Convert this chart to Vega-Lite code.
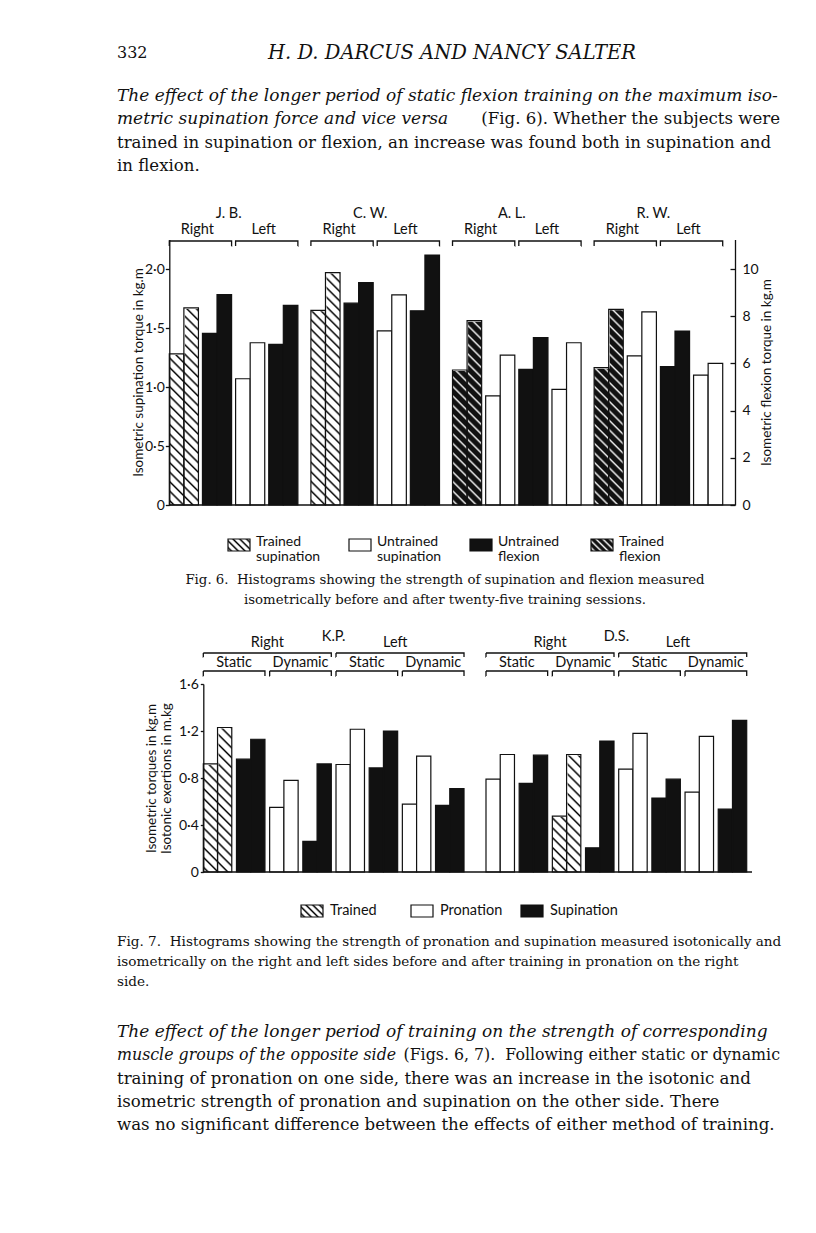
{
"$schema": "https://vega.github.io/schema/vega-lite/v6.json",
"width": 816, "height": 1233,
"autosize": {"type": "fit", "contains": "padding"},
"padding": 0,
"background": "white",
"config": {
  "view": {"stroke": null},
  "font": "Lato",
  "axis": {"labelFont": "Lato", "labelFontSize": 14, "labelColor": "#111", "titleFont": "Lato", "titleFontSize": 13.5, "titleFontWeight": "normal", "titleColor": "#111", "domainColor": "#111", "tickColor": "#111", "domainWidth": 1.3, "tickWidth": 1.3, "grid": false, "zindex": 1}
},
"datasets": {
  "fig6": [
    {"subject":"J.B.","side":"Right","pair":"p1","measure":"supination","kind":"Trained supination","before":1.28,"after":1.67},
    {"subject":"J.B.","side":"Right","pair":"p2","measure":"flexion","kind":"Untrained flexion","before":7.27,"after":8.91},
    {"subject":"J.B.","side":"Left","pair":"p3","measure":"supination","kind":"Untrained supination","before":1.07,"after":1.375},
    {"subject":"J.B.","side":"Left","pair":"p4","measure":"flexion","kind":"Untrained flexion","before":6.81,"after":8.46},
    {"subject":"C.W.","side":"Right","pair":"p1","measure":"supination","kind":"Trained supination","before":1.65,"after":1.97},
    {"subject":"C.W.","side":"Right","pair":"p2","measure":"flexion","kind":"Untrained flexion","before":8.55,"after":9.42},
    {"subject":"C.W.","side":"Left","pair":"p3","measure":"supination","kind":"Untrained supination","before":1.475,"after":1.78},
    {"subject":"C.W.","side":"Left","pair":"p4","measure":"flexion","kind":"Untrained flexion","before":8.23,"after":10.59},
    {"subject":"A.L.","side":"Right","pair":"p1","measure":"flexion","kind":"Trained flexion","before":5.72,"after":7.81},
    {"subject":"A.L.","side":"Right","pair":"p2","measure":"supination","kind":"Untrained supination","before":0.924,"after":1.27},
    {"subject":"A.L.","side":"Left","pair":"p3","measure":"flexion","kind":"Untrained flexion","before":5.75,"after":7.09},
    {"subject":"A.L.","side":"Left","pair":"p4","measure":"supination","kind":"Untrained supination","before":0.98,"after":1.375},
    {"subject":"R.W.","side":"Right","pair":"p1","measure":"flexion","kind":"Trained flexion","before":5.82,"after":8.29},
    {"subject":"R.W.","side":"Right","pair":"p2","measure":"supination","kind":"Untrained supination","before":1.263,"after":1.636},
    {"subject":"R.W.","side":"Left","pair":"p3","measure":"flexion","kind":"Untrained flexion","before":5.86,"after":7.37},
    {"subject":"R.W.","side":"Left","pair":"p4","measure":"supination","kind":"Untrained supination","before":1.10,"after":1.20}
  ],
  "fig6hdr": [
    {"subject":"J.B.","label":"J. B.","side":"Right"},{"subject":"J.B.","label":"J. B.","side":"Left"},
    {"subject":"C.W.","label":"C. W.","side":"Right"},{"subject":"C.W.","label":"C. W.","side":"Left"},
    {"subject":"A.L.","label":"A. L.","side":"Right"},{"subject":"A.L.","label":"A. L.","side":"Left"},
    {"subject":"R.W.","label":"R. W.","side":"Right"},{"subject":"R.W.","label":"R. W.","side":"Left"}
  ],
  "legend6": [{"entry":"Trained supination"},{"entry":"Untrained supination"},{"entry":"Untrained flexion"},{"entry":"Trained flexion"}],
  "fig7": [
    {"subject":"K.P.","side":"Right","mode":"Static","pair":"p1","measure":"pronation","kind":"Trained","before":0.92,"after":1.23},
    {"subject":"K.P.","side":"Right","mode":"Static","pair":"p2","measure":"supination","kind":"Supination","before":0.96,"after":1.13},
    {"subject":"K.P.","side":"Right","mode":"Dynamic","pair":"p3","measure":"pronation","kind":"Pronation","before":0.55,"after":0.78},
    {"subject":"K.P.","side":"Right","mode":"Dynamic","pair":"p4","measure":"supination","kind":"Supination","before":0.26,"after":0.92},
    {"subject":"K.P.","side":"Left","mode":"Static","pair":"p5","measure":"pronation","kind":"Pronation","before":0.915,"after":1.215},
    {"subject":"K.P.","side":"Left","mode":"Static","pair":"p6","measure":"supination","kind":"Supination","before":0.886,"after":1.20},
    {"subject":"K.P.","side":"Left","mode":"Dynamic","pair":"p7","measure":"pronation","kind":"Pronation","before":0.577,"after":0.986},
    {"subject":"K.P.","side":"Left","mode":"Dynamic","pair":"p8","measure":"supination","kind":"Supination","before":0.567,"after":0.71},
    {"subject":"D.S.","side":"Right","mode":"Static","pair":"p1","measure":"pronation","kind":"Pronation","before":0.79,"after":1.0},
    {"subject":"D.S.","side":"Right","mode":"Static","pair":"p2","measure":"supination","kind":"Supination","before":0.754,"after":0.994},
    {"subject":"D.S.","side":"Right","mode":"Dynamic","pair":"p3","measure":"pronation","kind":"Trained","before":0.476,"after":1.0},
    {"subject":"D.S.","side":"Right","mode":"Dynamic","pair":"p4","measure":"supination","kind":"Supination","before":0.206,"after":1.115},
    {"subject":"D.S.","side":"Left","mode":"Static","pair":"p5","measure":"pronation","kind":"Pronation","before":0.875,"after":1.18},
    {"subject":"D.S.","side":"Left","mode":"Static","pair":"p6","measure":"supination","kind":"Supination","before":0.63,"after":0.79},
    {"subject":"D.S.","side":"Left","mode":"Dynamic","pair":"p7","measure":"pronation","kind":"Pronation","before":0.68,"after":1.155},
    {"subject":"D.S.","side":"Left","mode":"Dynamic","pair":"p8","measure":"supination","kind":"Supination","before":0.535,"after":1.29}
  ],
  "fig7hdr": [
    {"subject":"K.P.","side":"Right","mode":"Static","group":"Right Static"},
    {"subject":"K.P.","side":"Right","mode":"Dynamic","group":"Right Dynamic"},
    {"subject":"K.P.","side":"Left","mode":"Static","group":"Left Static"},
    {"subject":"K.P.","side":"Left","mode":"Dynamic","group":"Left Dynamic"},
    {"subject":"D.S.","side":"Right","mode":"Static","group":"Right Static"},
    {"subject":"D.S.","side":"Right","mode":"Dynamic","group":"Right Dynamic"},
    {"subject":"D.S.","side":"Left","mode":"Static","group":"Left Static"},
    {"subject":"D.S.","side":"Left","mode":"Dynamic","group":"Left Dynamic"}
  ],
  "legend7": [{"entry":"Trained"},{"entry":"Pronation"},{"entry":"Supination"}],
  "text": [
    {"block":"header-page","line":1,"text":"332"},
    {"block":"header-title","line":1,"text":"H. D. DARCUS AND NANCY SALTER"},
    {"block":"p1-lead","line":1,"text":"\u00a0\u00a0\u00a0\u00a0\u00a0The effect of the longer period of static flexion training on the maximum iso-"},
    {"block":"p1-lead","line":2,"text":"metric supination force and vice versa"},
    {"block":"p1-tail","line":2,"text":"(Fig. 6). Whether the subjects were"},
    {"block":"p1-body","line":3,"text":"trained in supination or flexion, an increase was found both in supination and"},
    {"block":"p1-body","line":4,"text":"in flexion."},
    {"block":"cap6","line":1,"text":"Fig. 6.\u00a0 Histograms showing the strength of supination and flexion measured"},
    {"block":"cap6","line":2,"text":"isometrically before and after twenty-five training sessions."},
    {"block":"cap7","line":1,"text":"Fig. 7.\u00a0 Histograms showing the strength of pronation and supination measured isotonically and"},
    {"block":"cap7","line":2,"text":"\u00a0\u00a0\u00a0\u00a0\u00a0isometrically on the right and left sides before and after training in pronation on the right"},
    {"block":"cap7","line":3,"text":"\u00a0\u00a0\u00a0\u00a0\u00a0side."},
    {"block":"p2-lead","line":1,"text":"\u00a0\u00a0\u00a0\u00a0\u00a0The effect of the longer period of training on the strength of corresponding"},
    {"block":"p2-lead","line":2,"text":"muscle groups of the opposite side"},
    {"block":"p2-tail","line":2,"text":"(Figs. 6, 7).\u00a0 Following either static or dynamic"},
    {"block":"p2-body","line":3,"text":"training of pronation on one side, there was an increase in the isotonic and"},
    {"block":"p2-body","line":4,"text":"isometric strength of pronation and supination on the other side. There"},
    {"block":"p2-body","line":5,"text":"was no significant difference between the effects of either method of training."}
  ]
},
"layer": [
  {"data":{"name":"fig6"},"transform":[{"filter":"datum.kind === 'Trained supination'"}],
   "mark":{"type":"bar","strokeWidth":0,"fill":{"gradient":"linear","x1":0,"y1":1,"x2":0.1204,"y2":-0.0965,"stops":[
{"offset":0.009,"color":"#fff"},{"offset":0.0161,"color":"#000"},{"offset":0.0232,"color":"#fff"},
{"offset":0.0413,"color":"#fff"},{"offset":0.0484,"color":"#000"},{"offset":0.0555,"color":"#fff"},
{"offset":0.0735,"color":"#fff"},{"offset":0.0806,"color":"#000"},{"offset":0.0877,"color":"#fff"},
{"offset":0.1058,"color":"#fff"},{"offset":0.1129,"color":"#000"},{"offset":0.12,"color":"#fff"},
{"offset":0.1381,"color":"#fff"},{"offset":0.1452,"color":"#000"},{"offset":0.1523,"color":"#fff"},
{"offset":0.1703,"color":"#fff"},{"offset":0.1774,"color":"#000"},{"offset":0.1845,"color":"#fff"},
{"offset":0.2026,"color":"#fff"},{"offset":0.2097,"color":"#000"},{"offset":0.2168,"color":"#fff"},
{"offset":0.2348,"color":"#fff"},{"offset":0.2419,"color":"#000"},{"offset":0.249,"color":"#fff"},
{"offset":0.2671,"color":"#fff"},{"offset":0.2742,"color":"#000"},{"offset":0.2813,"color":"#fff"},
{"offset":0.2994,"color":"#fff"},{"offset":0.3065,"color":"#000"},{"offset":0.3136,"color":"#fff"},
{"offset":0.3316,"color":"#fff"},{"offset":0.3387,"color":"#000"},{"offset":0.3458,"color":"#fff"},
{"offset":0.3639,"color":"#fff"},{"offset":0.371,"color":"#000"},{"offset":0.3781,"color":"#fff"},
{"offset":0.3961,"color":"#fff"},{"offset":0.4032,"color":"#000"},{"offset":0.4103,"color":"#fff"},
{"offset":0.4284,"color":"#fff"},{"offset":0.4355,"color":"#000"},{"offset":0.4426,"color":"#fff"},
{"offset":0.4606,"color":"#fff"},{"offset":0.4677,"color":"#000"},{"offset":0.4748,"color":"#fff"},
{"offset":0.4929,"color":"#fff"},{"offset":0.5,"color":"#000"},{"offset":0.5071,"color":"#fff"},
{"offset":0.5252,"color":"#fff"},{"offset":0.5323,"color":"#000"},{"offset":0.5394,"color":"#fff"},
{"offset":0.5574,"color":"#fff"},{"offset":0.5645,"color":"#000"},{"offset":0.5716,"color":"#fff"},
{"offset":0.5897,"color":"#fff"},{"offset":0.5968,"color":"#000"},{"offset":0.6039,"color":"#fff"},
{"offset":0.6219,"color":"#fff"},{"offset":0.629,"color":"#000"},{"offset":0.6361,"color":"#fff"},
{"offset":0.6542,"color":"#fff"},{"offset":0.6613,"color":"#000"},{"offset":0.6684,"color":"#fff"},
{"offset":0.6864,"color":"#fff"},{"offset":0.6935,"color":"#000"},{"offset":0.7006,"color":"#fff"},
{"offset":0.7187,"color":"#fff"},{"offset":0.7258,"color":"#000"},{"offset":0.7329,"color":"#fff"},
{"offset":0.751,"color":"#fff"},{"offset":0.7581,"color":"#000"},{"offset":0.7652,"color":"#fff"},
{"offset":0.7832,"color":"#fff"},{"offset":0.7903,"color":"#000"},{"offset":0.7974,"color":"#fff"},
{"offset":0.8155,"color":"#fff"},{"offset":0.8226,"color":"#000"},{"offset":0.8297,"color":"#fff"},
{"offset":0.8477,"color":"#fff"},{"offset":0.8548,"color":"#000"},{"offset":0.8619,"color":"#fff"},
{"offset":0.88,"color":"#fff"},{"offset":0.8871,"color":"#000"},{"offset":0.8942,"color":"#fff"},
{"offset":0.9123,"color":"#fff"},{"offset":0.9194,"color":"#000"},{"offset":0.9265,"color":"#fff"},
{"offset":0.9445,"color":"#fff"},{"offset":0.9516,"color":"#000"},{"offset":0.9587,"color":"#fff"},
{"offset":0.9768,"color":"#fff"},{"offset":0.9839,"color":"#000"},{"offset":0.991,"color":"#fff"}]}},
   "encoding":{
     "x":{"field":"subject","type":"nominal","axis":null,"scale":{"domain":["J.B.","C.W.","A.L.","R.W."],"range":[169.3,722.7],"paddingInner":0.092,"paddingOuter":0}},
     "xOffset":{"field":"pair","type":"nominal","scale":{"domain":["p1","p2","p3","p4"],"range":[0,128.58],"paddingInner":0.121,"paddingOuter":0}},
     "y":{"datum":2.25,"type":"quantitative","axis":null,"scale":{"domain":[0,2.25],"range":[505,239.5],"nice":false}},
     "y2":{"datum":0}}},
  {"data":{"name":"fig6"},"transform":[{"filter":"datum.kind === 'Trained flexion'"}],
   "mark":{"type":"bar","strokeWidth":0,"fill":{"gradient":"linear","x1":0,"y1":1,"x2":0.1204,"y2":-0.0965,"stops":[
{"offset":0.009,"color":"#111"},{"offset":0.0161,"color":"#eee"},{"offset":0.0232,"color":"#111"},
{"offset":0.0413,"color":"#111"},{"offset":0.0484,"color":"#eee"},{"offset":0.0555,"color":"#111"},
{"offset":0.0735,"color":"#111"},{"offset":0.0806,"color":"#eee"},{"offset":0.0877,"color":"#111"},
{"offset":0.1058,"color":"#111"},{"offset":0.1129,"color":"#eee"},{"offset":0.12,"color":"#111"},
{"offset":0.1381,"color":"#111"},{"offset":0.1452,"color":"#eee"},{"offset":0.1523,"color":"#111"},
{"offset":0.1703,"color":"#111"},{"offset":0.1774,"color":"#eee"},{"offset":0.1845,"color":"#111"},
{"offset":0.2026,"color":"#111"},{"offset":0.2097,"color":"#eee"},{"offset":0.2168,"color":"#111"},
{"offset":0.2348,"color":"#111"},{"offset":0.2419,"color":"#eee"},{"offset":0.249,"color":"#111"},
{"offset":0.2671,"color":"#111"},{"offset":0.2742,"color":"#eee"},{"offset":0.2813,"color":"#111"},
{"offset":0.2994,"color":"#111"},{"offset":0.3065,"color":"#eee"},{"offset":0.3136,"color":"#111"},
{"offset":0.3316,"color":"#111"},{"offset":0.3387,"color":"#eee"},{"offset":0.3458,"color":"#111"},
{"offset":0.3639,"color":"#111"},{"offset":0.371,"color":"#eee"},{"offset":0.3781,"color":"#111"},
{"offset":0.3961,"color":"#111"},{"offset":0.4032,"color":"#eee"},{"offset":0.4103,"color":"#111"},
{"offset":0.4284,"color":"#111"},{"offset":0.4355,"color":"#eee"},{"offset":0.4426,"color":"#111"},
{"offset":0.4606,"color":"#111"},{"offset":0.4677,"color":"#eee"},{"offset":0.4748,"color":"#111"},
{"offset":0.4929,"color":"#111"},{"offset":0.5,"color":"#eee"},{"offset":0.5071,"color":"#111"},
{"offset":0.5252,"color":"#111"},{"offset":0.5323,"color":"#eee"},{"offset":0.5394,"color":"#111"},
{"offset":0.5574,"color":"#111"},{"offset":0.5645,"color":"#eee"},{"offset":0.5716,"color":"#111"},
{"offset":0.5897,"color":"#111"},{"offset":0.5968,"color":"#eee"},{"offset":0.6039,"color":"#111"},
{"offset":0.6219,"color":"#111"},{"offset":0.629,"color":"#eee"},{"offset":0.6361,"color":"#111"},
{"offset":0.6542,"color":"#111"},{"offset":0.6613,"color":"#eee"},{"offset":0.6684,"color":"#111"},
{"offset":0.6864,"color":"#111"},{"offset":0.6935,"color":"#eee"},{"offset":0.7006,"color":"#111"},
{"offset":0.7187,"color":"#111"},{"offset":0.7258,"color":"#eee"},{"offset":0.7329,"color":"#111"},
{"offset":0.751,"color":"#111"},{"offset":0.7581,"color":"#eee"},{"offset":0.7652,"color":"#111"},
{"offset":0.7832,"color":"#111"},{"offset":0.7903,"color":"#eee"},{"offset":0.7974,"color":"#111"},
{"offset":0.8155,"color":"#111"},{"offset":0.8226,"color":"#eee"},{"offset":0.8297,"color":"#111"},
{"offset":0.8477,"color":"#111"},{"offset":0.8548,"color":"#eee"},{"offset":0.8619,"color":"#111"},
{"offset":0.88,"color":"#111"},{"offset":0.8871,"color":"#eee"},{"offset":0.8942,"color":"#111"},
{"offset":0.9123,"color":"#111"},{"offset":0.9194,"color":"#eee"},{"offset":0.9265,"color":"#111"},
{"offset":0.9445,"color":"#111"},{"offset":0.9516,"color":"#eee"},{"offset":0.9587,"color":"#111"},
{"offset":0.9768,"color":"#111"},{"offset":0.9839,"color":"#eee"},{"offset":0.991,"color":"#111"}]}},
   "encoding":{
     "x":{"field":"subject","type":"nominal","axis":null,"scale":{"domain":["J.B.","C.W.","A.L.","R.W."],"range":[169.3,722.7],"paddingInner":0.092,"paddingOuter":0}},
     "xOffset":{"field":"pair","type":"nominal","scale":{"domain":["p1","p2","p3","p4"],"range":[0,128.58],"paddingInner":0.121,"paddingOuter":0}},
     "y":{"datum":11.25,"type":"quantitative","axis":null,"scale":{"domain":[0,11.25],"range":[505,239.5],"nice":false}},
     "y2":{"datum":0}}},
  {"data":{"name":"fig6"},"transform":[{"filter":"datum.kind === 'Trained supination'"}],
   "mark":{"type":"bar","fill":"white","stroke":"white","strokeWidth":2},
   "encoding":{
     "x":{"field":"subject","type":"nominal","axis":null,"scale":{"domain":["J.B.","C.W.","A.L.","R.W."],"range":[169.3,722.7],"paddingInner":0.092,"paddingOuter":0}},
     "xOffset":{"field":"pair","type":"nominal","scale":{"domain":["p1","p2","p3","p4"],"range":[0,114.02],"paddingInner":0.5605,"paddingOuter":0}},
     "y":{"field":"before","type":"quantitative","axis":null,"scale":{"domain":[0,2.25],"range":[505,239.5],"nice":false}},
     "y2":{"datum":2.25}}},
  {"data":{"name":"fig6"},"transform":[{"filter":"datum.kind === 'Trained supination'"}],
   "mark":{"type":"bar","fill":"white","stroke":"white","strokeWidth":2},
   "encoding":{
     "x":{"field":"subject","type":"nominal","axis":null,"scale":{"domain":["J.B.","C.W.","A.L.","R.W."],"range":[169.3,722.7],"paddingInner":0.092,"paddingOuter":0}},
     "xOffset":{"field":"pair","type":"nominal","scale":{"domain":["p1","p2","p3","p4"],"range":[14.57,128.59],"paddingInner":0.5605,"paddingOuter":0}},
     "y":{"field":"after","type":"quantitative","axis":null,"scale":{"domain":[0,2.25],"range":[505,239.5],"nice":false}},
     "y2":{"datum":2.25}}},
  {"data":{"name":"fig6"},"transform":[{"filter":"datum.kind === 'Trained flexion'"}],
   "mark":{"type":"bar","fill":"white","stroke":"white","strokeWidth":2},
   "encoding":{
     "x":{"field":"subject","type":"nominal","axis":null,"scale":{"domain":["J.B.","C.W.","A.L.","R.W."],"range":[169.3,722.7],"paddingInner":0.092,"paddingOuter":0}},
     "xOffset":{"field":"pair","type":"nominal","scale":{"domain":["p1","p2","p3","p4"],"range":[0,114.02],"paddingInner":0.5605,"paddingOuter":0}},
     "y":{"field":"before","type":"quantitative","axis":null,"scale":{"domain":[0,11.25],"range":[505,239.5],"nice":false}},
     "y2":{"datum":11.25}}},
  {"data":{"name":"fig6"},"transform":[{"filter":"datum.kind === 'Trained flexion'"}],
   "mark":{"type":"bar","fill":"white","stroke":"white","strokeWidth":2},
   "encoding":{
     "x":{"field":"subject","type":"nominal","axis":null,"scale":{"domain":["J.B.","C.W.","A.L.","R.W."],"range":[169.3,722.7],"paddingInner":0.092,"paddingOuter":0}},
     "xOffset":{"field":"pair","type":"nominal","scale":{"domain":["p1","p2","p3","p4"],"range":[14.57,128.59],"paddingInner":0.5605,"paddingOuter":0}},
     "y":{"field":"after","type":"quantitative","axis":null,"scale":{"domain":[0,11.25],"range":[505,239.5],"nice":false}},
     "y2":{"datum":11.25}}},
  {"data":{"name":"fig6"},"transform":[{"filter":"datum.measure === 'supination'"}],
   "mark":{"type":"bar","stroke":"#111","strokeWidth":1.2},
   "encoding":{
     "x":{"field":"subject","type":"nominal","axis":null,"scale":{"domain":["J.B.","C.W.","A.L.","R.W."],"range":[169.3,722.7],"paddingInner":0.092,"paddingOuter":0}},
     "xOffset":{"field":"pair","type":"nominal","scale":{"domain":["p1","p2","p3","p4"],"range":[0,114.02],"paddingInner":0.5605,"paddingOuter":0}},
     "y":{"field":"before","type":"quantitative","scale":{"domain":[0,2.25],"range":[505,239.5],"nice":false},
          "axis":{"orient":"left","offset":-169.3,"zindex":1,"values":[0,0.5,1,1.5,2],"labelExpr":"datum.value === 0 ? '0' : replace(format(datum.value, '.1f'), '.', '·')","tickSize":4,"labelPadding":1,"title":"Isometric supination torque in kg.m","titleAngle":270,"titleX":-31,"titleY":372,"titleAlign":"center","titleBaseline":"middle"}},
     "fill":{"condition":{"test":"indexof(datum.kind, 'Trained') === 0","value":"transparent"},"value":"white"}}},
  {"data":{"name":"fig6"},"transform":[{"filter":"datum.measure === 'supination'"}],
   "mark":{"type":"bar","stroke":"#111","strokeWidth":1.2},
   "encoding":{
     "x":{"field":"subject","type":"nominal","axis":null,"scale":{"domain":["J.B.","C.W.","A.L.","R.W."],"range":[169.3,722.7],"paddingInner":0.092,"paddingOuter":0}},
     "xOffset":{"field":"pair","type":"nominal","scale":{"domain":["p1","p2","p3","p4"],"range":[14.57,128.59],"paddingInner":0.5605,"paddingOuter":0}},
     "y":{"field":"after","type":"quantitative","axis":null,"scale":{"domain":[0,2.25],"range":[505,239.5],"nice":false}},
     "fill":{"condition":{"test":"indexof(datum.kind, 'Trained') === 0","value":"transparent"},"value":"white"}}},
  {"data":{"name":"fig6"},"transform":[{"filter":"datum.measure === 'flexion'"}],
   "mark":{"type":"bar","stroke":"#111","strokeWidth":1.2},
   "encoding":{
     "x":{"field":"subject","type":"nominal","axis":null,"scale":{"domain":["J.B.","C.W.","A.L.","R.W."],"range":[169.3,722.7],"paddingInner":0.092,"paddingOuter":0}},
     "xOffset":{"field":"pair","type":"nominal","scale":{"domain":["p1","p2","p3","p4"],"range":[0,114.02],"paddingInner":0.5605,"paddingOuter":0}},
     "y":{"field":"before","type":"quantitative","scale":{"domain":[0,11.25],"range":[505,239.5],"nice":false},
          "axis":{"orient":"right","offset":-81,"zindex":1,"values":[0,2,4,6,8,10],"tickSize":-5,"labelPadding":12,"title":"Isometric flexion torque in kg.m","titleAngle":270,"titleX":31,"titleY":372,"titleAlign":"center","titleBaseline":"middle"}},
     "fill":{"condition":{"test":"indexof(datum.kind, 'Trained') === 0","value":"transparent"},"value":"#111"}}},
  {"data":{"name":"fig6"},"transform":[{"filter":"datum.measure === 'flexion'"}],
   "mark":{"type":"bar","stroke":"#111","strokeWidth":1.2},
   "encoding":{
     "x":{"field":"subject","type":"nominal","axis":null,"scale":{"domain":["J.B.","C.W.","A.L.","R.W."],"range":[169.3,722.7],"paddingInner":0.092,"paddingOuter":0}},
     "xOffset":{"field":"pair","type":"nominal","scale":{"domain":["p1","p2","p3","p4"],"range":[14.57,128.59],"paddingInner":0.5605,"paddingOuter":0}},
     "y":{"field":"after","type":"quantitative","axis":null,"scale":{"domain":[0,11.25],"range":[505,239.5],"nice":false}},
     "fill":{"condition":{"test":"indexof(datum.kind, 'Trained') === 0","value":"transparent"},"value":"#111"}}},
  {"data":{"values":[{}]},
   "mark":{"type":"rule","stroke":"#111","strokeWidth":1.3},
   "encoding":{"x":{"value":169.3},"x2":{"value":735},"y":{"datum":0,"type":"quantitative","axis":null,"scale":{"domain":[0,2.25],"range":[505,239.5],"nice":false}}}},
  {"data":{"name":"fig6hdr"},
   "mark":{"type":"bar","filled":false,"stroke":"#111","strokeWidth":1.3,"strokeDash":[67.3,62.3,5]},
   "encoding":{
     "x":{"field":"subject","type":"nominal","axis":null,"scale":{"domain":["J.B.","C.W.","A.L.","R.W."],"range":[169.3,722.7],"paddingInner":0.092,"paddingOuter":0}},
     "xOffset":{"field":"side","type":"nominal","scale":{"domain":["Right","Left"],"range":[0,128.58],"paddingInner":0.0605,"paddingOuter":0}},
     "y":{"value":241},"y2":{"value":246}}},
  {"data":{"name":"fig6hdr"},
   "mark":{"type":"text","font":"Lato","fontSize":14.5,"baseline":"middle","color":"#111","dx":-3},
   "encoding":{
     "x":{"field":"subject","type":"nominal","axis":null,"scale":{"type":"point","domain":["J.B.","C.W.","A.L.","R.W."],"range":[169.3,594.12],"padding":0}},
     "xOffset":{"field":"side","type":"nominal","scale":{"type":"point","domain":["Right","Left"],"range":[31.15,97.45],"padding":0}},
     "y":{"value":229.5},"text":{"field":"side"}}},
  {"data":{"name":"fig6hdr"},"transform":[{"filter":"datum.side === 'Right'"}],
   "mark":{"type":"text","font":"Lato","fontSize":14.5,"baseline":"middle","color":"#111","dx":-5},
   "encoding":{
     "x":{"field":"subject","type":"nominal","axis":null,"scale":{"type":"point","domain":["J.B.","C.W.","A.L.","R.W."],"range":[233.6,658.4],"padding":0}},
     "y":{"value":214},"text":{"field":"label"}}},
  {"data":{"name":"legend6"},"transform":[{"filter":"datum.entry === 'Trained supination'"}],
   "mark":{"type":"bar","stroke":"#111","strokeWidth":1.2,"fill":{"gradient":"linear","x1":0,"y1":1,"x2":1.19,"y2":0.3455,"stops":[{"offset":0.038,"color":"#fff"},{"offset":0.1,"color":"#000"},{"offset":0.162,"color":"#fff"},{"offset":0.238,"color":"#fff"},{"offset":0.3,"color":"#000"},{"offset":0.362,"color":"#fff"},{"offset":0.438,"color":"#fff"},{"offset":0.5,"color":"#000"},{"offset":0.562,"color":"#fff"},{"offset":0.638,"color":"#fff"},{"offset":0.7,"color":"#000"},{"offset":0.762,"color":"#fff"},{"offset":0.838,"color":"#fff"},{"offset":0.9,"color":"#000"},{"offset":0.962,"color":"#fff"}]}},
   "encoding":{
     "x":{"field":"entry","type":"nominal","axis":null,"scale":{"domain":["Trained supination","Untrained supination","Untrained flexion","Trained flexion"],"range":[228,613],"paddingInner":0.8182,"paddingOuter":0}},
     "y":{"value":539},"y2":{"value":551}}},
  {"data":{"name":"legend6"},"transform":[{"filter":"datum.entry === 'Trained flexion'"}],
   "mark":{"type":"bar","stroke":"#111","strokeWidth":1.2,"fill":{"gradient":"linear","x1":0,"y1":1,"x2":1.19,"y2":0.3455,"stops":[{"offset":0.038,"color":"#111"},{"offset":0.1,"color":"#eee"},{"offset":0.162,"color":"#111"},{"offset":0.238,"color":"#111"},{"offset":0.3,"color":"#eee"},{"offset":0.362,"color":"#111"},{"offset":0.438,"color":"#111"},{"offset":0.5,"color":"#eee"},{"offset":0.562,"color":"#111"},{"offset":0.638,"color":"#111"},{"offset":0.7,"color":"#eee"},{"offset":0.762,"color":"#111"},{"offset":0.838,"color":"#111"},{"offset":0.9,"color":"#eee"},{"offset":0.962,"color":"#111"}]}},
   "encoding":{
     "x":{"field":"entry","type":"nominal","axis":null,"scale":{"domain":["Trained supination","Untrained supination","Untrained flexion","Trained flexion"],"range":[228,613],"paddingInner":0.8182,"paddingOuter":0}},
     "y":{"value":539},"y2":{"value":551}}},
  {"data":{"name":"legend6"},"transform":[{"filter":"indexof(datum.entry, 'Untrained') === 0"}],
   "mark":{"type":"bar","stroke":"#111","strokeWidth":1.2},
   "encoding":{
     "x":{"field":"entry","type":"nominal","axis":null,"scale":{"domain":["Trained supination","Untrained supination","Untrained flexion","Trained flexion"],"range":[228,613],"paddingInner":0.8182,"paddingOuter":0}},
     "y":{"value":539},"y2":{"value":551},
     "fill":{"condition":{"test":"datum.entry === 'Untrained flexion'","value":"#111"},"value":"white"}}},
  {"data":{"name":"legend6"},
   "mark":{"type":"text","font":"Lato","fontSize":14,"align":"left","baseline":"middle","color":"#111","lineBreak":" ","lineHeight":15},
   "encoding":{
     "x":{"field":"entry","type":"nominal","axis":null,"scale":{"type":"point","domain":["Trained supination","Untrained supination","Untrained flexion","Trained flexion"],"range":[256,619],"padding":0}},
     "y":{"value":542},"text":{"field":"entry"}}},

  {"data":{"name":"fig7"},"transform":[{"filter":"datum.kind === 'Trained'"}],
   "mark":{"type":"bar","strokeWidth":0,"fill":{"gradient":"linear","x1":0,"y1":1,"x2":0.1705,"y2":-0.1257,"stops":[
{"offset":0.013,"color":"#fff"},{"offset":0.0227,"color":"#000"},{"offset":0.0324,"color":"#fff"},
{"offset":0.0585,"color":"#fff"},{"offset":0.0682,"color":"#000"},{"offset":0.0779,"color":"#fff"},
{"offset":0.1039,"color":"#fff"},{"offset":0.1136,"color":"#000"},{"offset":0.1233,"color":"#fff"},
{"offset":0.1494,"color":"#fff"},{"offset":0.1591,"color":"#000"},{"offset":0.1688,"color":"#fff"},
{"offset":0.1948,"color":"#fff"},{"offset":0.2045,"color":"#000"},{"offset":0.2142,"color":"#fff"},
{"offset":0.2403,"color":"#fff"},{"offset":0.25,"color":"#000"},{"offset":0.2597,"color":"#fff"},
{"offset":0.2858,"color":"#fff"},{"offset":0.2955,"color":"#000"},{"offset":0.3052,"color":"#fff"},
{"offset":0.3312,"color":"#fff"},{"offset":0.3409,"color":"#000"},{"offset":0.3506,"color":"#fff"},
{"offset":0.3767,"color":"#fff"},{"offset":0.3864,"color":"#000"},{"offset":0.3961,"color":"#fff"},
{"offset":0.4221,"color":"#fff"},{"offset":0.4318,"color":"#000"},{"offset":0.4415,"color":"#fff"},
{"offset":0.4676,"color":"#fff"},{"offset":0.4773,"color":"#000"},{"offset":0.487,"color":"#fff"},
{"offset":0.513,"color":"#fff"},{"offset":0.5227,"color":"#000"},{"offset":0.5324,"color":"#fff"},
{"offset":0.5585,"color":"#fff"},{"offset":0.5682,"color":"#000"},{"offset":0.5779,"color":"#fff"},
{"offset":0.6039,"color":"#fff"},{"offset":0.6136,"color":"#000"},{"offset":0.6233,"color":"#fff"},
{"offset":0.6494,"color":"#fff"},{"offset":0.6591,"color":"#000"},{"offset":0.6688,"color":"#fff"},
{"offset":0.6948,"color":"#fff"},{"offset":0.7045,"color":"#000"},{"offset":0.7142,"color":"#fff"},
{"offset":0.7403,"color":"#fff"},{"offset":0.75,"color":"#000"},{"offset":0.7597,"color":"#fff"},
{"offset":0.7858,"color":"#fff"},{"offset":0.7955,"color":"#000"},{"offset":0.8052,"color":"#fff"},
{"offset":0.8312,"color":"#fff"},{"offset":0.8409,"color":"#000"},{"offset":0.8506,"color":"#fff"},
{"offset":0.8767,"color":"#fff"},{"offset":0.8864,"color":"#000"},{"offset":0.8961,"color":"#fff"},
{"offset":0.9221,"color":"#fff"},{"offset":0.9318,"color":"#000"},{"offset":0.9415,"color":"#fff"},
{"offset":0.9676,"color":"#fff"},{"offset":0.9773,"color":"#000"},{"offset":0.987,"color":"#fff"}]}},
   "encoding":{
     "x":{"field":"subject","type":"nominal","axis":null,"scale":{"domain":["K.P.","D.S."],"range":[203.3,746.7],"paddingInner":0.0778,"paddingOuter":0}},
     "xOffset":{"field":"pair","type":"nominal","scale":{"domain":["p1","p2","p3","p4","p5","p6","p7","p8"],"range":[0,260.71],"paddingInner":0.1417,"paddingOuter":0}},
     "y":{"datum":1.6,"type":"quantitative","axis":null,"scale":{"domain":[0,1.6],"range":[872,684],"nice":false}},
     "y2":{"datum":0}}},
  {"data":{"name":"fig7"},"transform":[{"filter":"datum.kind === 'Trained'"}],
   "mark":{"type":"bar","fill":"white","stroke":"white","strokeWidth":2},
   "encoding":{
     "x":{"field":"subject","type":"nominal","axis":null,"scale":{"domain":["K.P.","D.S."],"range":[203.3,746.7],"paddingInner":0.0778,"paddingOuter":0}},
     "xOffset":{"field":"pair","type":"nominal","scale":{"domain":["p1","p2","p3","p4","p5","p6","p7","p8"],"range":[0,246.47],"paddingInner":0.5709,"paddingOuter":0}},
     "y":{"field":"before","type":"quantitative","axis":null,"scale":{"domain":[0,1.6],"range":[872,684],"nice":false}},
     "y2":{"datum":1.6}}},
  {"data":{"name":"fig7"},"transform":[{"filter":"datum.kind === 'Trained'"}],
   "mark":{"type":"bar","fill":"white","stroke":"white","strokeWidth":2},
   "encoding":{
     "x":{"field":"subject","type":"nominal","axis":null,"scale":{"domain":["K.P.","D.S."],"range":[203.3,746.7],"paddingInner":0.0778,"paddingOuter":0}},
     "xOffset":{"field":"pair","type":"nominal","scale":{"domain":["p1","p2","p3","p4","p5","p6","p7","p8"],"range":[14.24,260.71],"paddingInner":0.5709,"paddingOuter":0}},
     "y":{"field":"after","type":"quantitative","axis":null,"scale":{"domain":[0,1.6],"range":[872,684],"nice":false}},
     "y2":{"datum":1.6}}},
  {"data":{"name":"fig7"},
   "mark":{"type":"bar","stroke":"#111","strokeWidth":1.2},
   "encoding":{
     "x":{"field":"subject","type":"nominal","axis":null,"scale":{"domain":["K.P.","D.S."],"range":[203.3,746.7],"paddingInner":0.0778,"paddingOuter":0}},
     "xOffset":{"field":"pair","type":"nominal","scale":{"domain":["p1","p2","p3","p4","p5","p6","p7","p8"],"range":[0,246.47],"paddingInner":0.5709,"paddingOuter":0}},
     "y":{"field":"before","type":"quantitative","scale":{"domain":[0,1.6],"range":[872,684],"nice":false},
          "axis":{"orient":"left","offset":-203.3,"zindex":1,"values":[0,0.4,0.8,1.2,1.6],"labelExpr":"datum.value === 0 ? '0' : replace(format(datum.value, '.1f'), '.', '·')","tickSize":3,"labelPadding":2,"title":["Isometric torques in kg.m","Isotonic exertions in m.kg"],"titleAngle":270,"titleX":-52,"titleY":778,"titleAlign":"center","titleBaseline":"middle","titleLineHeight":15}},
     "fill":{"condition":{"test":"datum.kind === 'Trained'","value":"transparent"},"field":"kind","type":"nominal","legend":null,
       "scale":{"domain":["Trained","Pronation","Supination"],"range":["transparent","white","#111"]}}}},
  {"data":{"name":"fig7"},
   "mark":{"type":"bar","stroke":"#111","strokeWidth":1.2},
   "encoding":{
     "x":{"field":"subject","type":"nominal","axis":null,"scale":{"domain":["K.P.","D.S."],"range":[203.3,746.7],"paddingInner":0.0778,"paddingOuter":0}},
     "xOffset":{"field":"pair","type":"nominal","scale":{"domain":["p1","p2","p3","p4","p5","p6","p7","p8"],"range":[14.24,260.71],"paddingInner":0.5709,"paddingOuter":0}},
     "y":{"field":"after","type":"quantitative","axis":null,"scale":{"domain":[0,1.6],"range":[872,684],"nice":false}},
     "fill":{"condition":{"test":"datum.kind === 'Trained'","value":"transparent"},"field":"kind","type":"nominal","legend":null,
       "scale":{"domain":["Trained","Pronation","Supination"],"range":["transparent","white","#111"]}}}},
  {"data":{"values":[{}]},
   "mark":{"type":"rule","stroke":"#111","strokeWidth":1.3},
   "encoding":{"x":{"value":203.3},"x2":{"value":752},"y":{"datum":0,"type":"quantitative","axis":null,"scale":{"domain":[0,1.6],"range":[872,684],"nice":false}}}},
  {"data":{"name":"fig7hdr"},"transform":[{"filter":"datum.mode === 'Static'"}],
   "mark":{"type":"bar","filled":false,"stroke":"#111","strokeWidth":1.3,"strokeDash":[132,128,4]},
   "encoding":{
     "x":{"field":"subject","type":"nominal","axis":null,"scale":{"domain":["K.P.","D.S."],"range":[203.3,746.7],"paddingInner":0.0778,"paddingOuter":0}},
     "xOffset":{"field":"side","type":"nominal","scale":{"domain":["Right","Left"],"range":[0,260.71],"paddingInner":0.0354,"paddingOuter":0}},
     "y":{"value":653},"y2":{"value":657}}},
  {"data":{"name":"fig7hdr"},
   "mark":{"type":"bar","filled":false,"stroke":"#111","strokeWidth":1.3,"strokeDash":[66.65,61.65,5]},
   "encoding":{
     "x":{"field":"subject","type":"nominal","axis":null,"scale":{"domain":["K.P.","D.S."],"range":[203.3,746.7],"paddingInner":0.0778,"paddingOuter":0}},
     "xOffset":{"field":"group","type":"nominal","scale":{"domain":["Right Static","Right Dynamic","Left Static","Left Dynamic"],"range":[0,260.71],"paddingInner":0.0708,"paddingOuter":0}},
     "y":{"value":671},"y2":{"value":676}}},
  {"data":{"name":"fig7hdr"},"transform":[{"filter":"datum.mode === 'Static'"}],
   "mark":{"type":"text","font":"Lato","fontSize":14.5,"baseline":"middle","color":"#111"},
   "encoding":{
     "x":{"field":"subject","type":"nominal","axis":null,"scale":{"type":"point","domain":["K.P.","D.S."],"range":[203.3,486.0],"padding":0}},
     "xOffset":{"field":"side","type":"nominal","scale":{"type":"point","domain":["Right","Left"],"range":[64.0,192.0],"padding":0}},
     "y":{"value":643},"text":{"field":"side"}}},
  {"data":{"name":"fig7hdr"},
   "mark":{"type":"text","font":"Lato","fontSize":14.5,"baseline":"middle","color":"#111"},
   "encoding":{
     "x":{"field":"subject","type":"nominal","axis":null,"scale":{"type":"point","domain":["K.P.","D.S."],"range":[203.3,486.0],"padding":0}},
     "xOffset":{"field":"group","type":"nominal","scale":{"type":"point","domain":["Right Static","Right Dynamic","Left Static","Left Dynamic"],"range":[30.83,229.88],"padding":0}},
     "y":{"value":662.5},"text":{"field":"mode"}}},
  {"data":{"name":"fig7hdr"},"transform":[{"filter":"datum.mode === 'Static' && datum.side === 'Right'"}],
   "mark":{"type":"text","font":"Lato","fontSize":14.5,"baseline":"middle","color":"#111"},
   "encoding":{
     "x":{"field":"subject","type":"nominal","axis":null,"scale":{"type":"point","domain":["K.P.","D.S."],"range":[333.65,616.35],"padding":0}},
     "y":{"value":637},"text":{"field":"subject"}}},
  {"data":{"name":"legend7"},"transform":[{"filter":"datum.entry === 'Trained'"}],
   "mark":{"type":"bar","stroke":"#111","strokeWidth":1.2,"fill":{"gradient":"linear","x1":0,"y1":1,"x2":1.19,"y2":0.3455,"stops":[{"offset":0.038,"color":"#fff"},{"offset":0.1,"color":"#000"},{"offset":0.162,"color":"#fff"},{"offset":0.238,"color":"#fff"},{"offset":0.3,"color":"#000"},{"offset":0.362,"color":"#fff"},{"offset":0.438,"color":"#fff"},{"offset":0.5,"color":"#000"},{"offset":0.562,"color":"#fff"},{"offset":0.638,"color":"#fff"},{"offset":0.7,"color":"#000"},{"offset":0.762,"color":"#fff"},{"offset":0.838,"color":"#fff"},{"offset":0.9,"color":"#000"},{"offset":0.962,"color":"#fff"}]}},
   "encoding":{
     "x":{"field":"entry","type":"nominal","axis":null,"scale":{"domain":["Trained","Pronation","Supination"],"range":[301,543],"paddingInner":0.8,"paddingOuter":0}},
     "y":{"value":905},"y2":{"value":917}}},
  {"data":{"name":"legend7"},"transform":[{"filter":"datum.entry !== 'Trained'"}],
   "mark":{"type":"bar","stroke":"#111","strokeWidth":1.2},
   "encoding":{
     "x":{"field":"entry","type":"nominal","axis":null,"scale":{"domain":["Trained","Pronation","Supination"],"range":[301,543],"paddingInner":0.8,"paddingOuter":0}},
     "y":{"value":905},"y2":{"value":917},
     "fill":{"condition":{"test":"datum.entry === 'Supination'","value":"#111"},"value":"white"}}},
  {"data":{"name":"legend7"},
   "mark":{"type":"text","font":"Lato","fontSize":14.5,"align":"left","baseline":"middle","color":"#111"},
   "encoding":{
     "x":{"field":"entry","type":"nominal","axis":null,"scale":{"type":"point","domain":["Trained","Pronation","Supination"],"range":[330,550],"padding":0}},
     "y":{"value":911},"text":{"field":"entry"}}},

  {"data":{"name":"text"},"transform":[{"filter":"datum.block === 'header-page'"}],
   "mark":{"type":"text","font":"DejaVu Serif","fontSize":16,"align":"left","baseline":"middle","color":"#111"},
   "encoding":{"x":{"value":117},"y":{"value":53},"text":{"field":"text"}}},
  {"data":{"name":"text"},"transform":[{"filter":"datum.block === 'header-title'"}],
   "mark":{"type":"text","font":"DejaVu Serif","fontSize":19.5,"fontStyle":"italic","align":"center","baseline":"middle","color":"#111"},
   "encoding":{"x":{"value":452},"y":{"value":53},"text":{"field":"text"}}},
  {"data":{"name":"text"},"transform":[{"filter":"datum.block === 'p1-lead'"}],
   "mark":{"type":"text","font":"DejaVu Serif","fontSize":17,"fontStyle":"italic","align":"left","baseline":"middle","color":"#111"},
   "encoding":{"x":{"value":117},"y":{"field":"line","type":"ordinal","axis":null,"scale":{"type":"point","domain":[1,2,3,4],"range":[96,166],"padding":0}},"text":{"field":"text"}}},
  {"data":{"name":"text"},"transform":[{"filter":"datum.block === 'p1-tail'"}],
   "mark":{"type":"text","font":"DejaVu Serif","fontSize":16.6,"align":"right","baseline":"middle","color":"#111"},
   "encoding":{"x":{"value":780},"y":{"field":"line","type":"ordinal","axis":null,"scale":{"type":"point","domain":[1,2,3,4],"range":[96,166],"padding":0}},"text":{"field":"text"}}},
  {"data":{"name":"text"},"transform":[{"filter":"datum.block === 'p1-body'"}],
   "mark":{"type":"text","font":"DejaVu Serif","fontSize":16.6,"align":"left","baseline":"middle","color":"#111"},
   "encoding":{"x":{"value":117},"y":{"field":"line","type":"ordinal","axis":null,"scale":{"type":"point","domain":[1,2,3,4],"range":[96,166],"padding":0}},"text":{"field":"text"}}},
  {"data":{"name":"text"},"transform":[{"filter":"datum.block === 'cap6'"}],
   "mark":{"type":"text","font":"DejaVu Serif","fontSize":13.3,"align":"center","baseline":"middle","color":"#111"},
   "encoding":{"x":{"value":445},"y":{"field":"line","type":"ordinal","axis":null,"scale":{"type":"point","domain":[1,2],"range":[580,600],"padding":0}},"text":{"field":"text"}}},
  {"data":{"name":"text"},"transform":[{"filter":"datum.block === 'cap7'"}],
   "mark":{"type":"text","font":"DejaVu Serif","fontSize":13.6,"align":"left","baseline":"middle","color":"#111"},
   "encoding":{"x":{"value":117},"y":{"field":"line","type":"ordinal","axis":null,"scale":{"type":"point","domain":[1,2,3],"range":[942,982],"padding":0}},"text":{"field":"text"}}},
  {"data":{"name":"text"},"transform":[{"filter":"datum.block === 'p2-lead' && datum.line === 1"}],
   "mark":{"type":"text","font":"DejaVu Serif","fontSize":17,"fontStyle":"italic","align":"left","baseline":"middle","color":"#111"},
   "encoding":{"x":{"value":117},"y":{"field":"line","type":"ordinal","axis":null,"scale":{"type":"point","domain":[1,2,3,4,5],"range":[1032,1125],"padding":0}},"text":{"field":"text"}}},
  {"data":{"name":"text"},"transform":[{"filter":"datum.block === 'p2-lead' && datum.line === 2"}],
   "mark":{"type":"text","font":"DejaVu Serif","fontSize":15.8,"fontStyle":"italic","align":"left","baseline":"middle","color":"#111"},
   "encoding":{"x":{"value":117},"y":{"field":"line","type":"ordinal","axis":null,"scale":{"type":"point","domain":[1,2,3,4,5],"range":[1032,1125],"padding":0}},"text":{"field":"text"}}},
  {"data":{"name":"text"},"transform":[{"filter":"datum.block === 'p2-tail'"}],
   "mark":{"type":"text","font":"DejaVu Serif","fontSize":15.8,"align":"right","baseline":"middle","color":"#111"},
   "encoding":{"x":{"value":780},"y":{"field":"line","type":"ordinal","axis":null,"scale":{"type":"point","domain":[1,2,3,4,5],"range":[1032,1125],"padding":0}},"text":{"field":"text"}}},
  {"data":{"name":"text"},"transform":[{"filter":"datum.block === 'p2-body'"}],
   "mark":{"type":"text","font":"DejaVu Serif","fontSize":16.6,"align":"left","baseline":"middle","color":"#111"},
   "encoding":{"x":{"value":117},"y":{"field":"line","type":"ordinal","axis":null,"scale":{"type":"point","domain":[1,2,3,4,5],"range":[1032,1125],"padding":0}},"text":{"field":"text"}}}
],
"resolve": {
  "scale": {"x": "independent", "y": "independent", "xOffset": "independent", "fill": "independent"},
  "axis": {"x": "independent", "y": "independent"}
}
}
